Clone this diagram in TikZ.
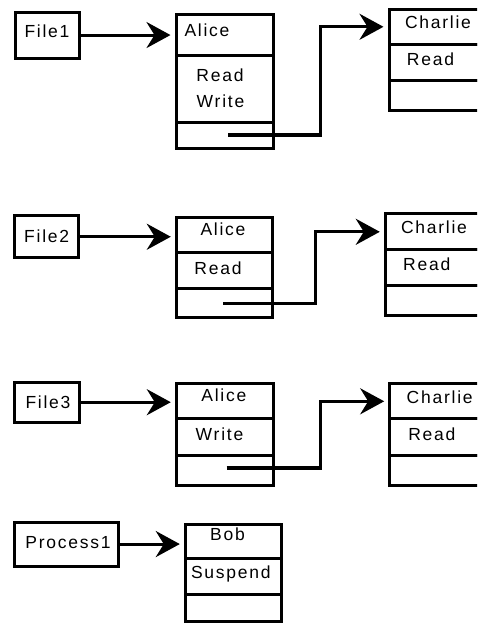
\documentclass[tikz,border=0pt]{standalone}
\usepackage{fontspec}
\setmainfont{Liberation Sans}[LetterSpace=10]
\usetikzlibrary{arrows.meta}

\begin{document}
\begin{tikzpicture}[x=1pt,y=-1pt,
  line width=3.1pt,
  box/.style={draw, rectangle, inner sep=0pt, anchor=north west},
  lbl/.style={anchor=base, inner sep=0pt, font=\fontsize{17.5}{20}\selectfont},
  arr/.style={-{Stealth[length=24pt,width=26pt,inset=8pt]}, shorten >=4pt}]
\useasboundingbox (0,0) rectangle (477,624);
\clip (0,0) rectangle (477,624);

% ---------- File1 ----------
\node[box, minimum width=64pt, minimum height=46pt] (f1) at (13.5,10.5) {};
\node[lbl] (f1t) at (47,37.5) {File1};
% access record: Alice
\node[box, minimum width=97pt, minimum height=41.5pt] (a1h) at (174.5,12.5) {};
\node[box, minimum width=97pt, minimum height=67pt]   (a1b) at (174.5,54) {};
\node[box, minimum width=97pt, minimum height=25.5pt] (a1p) at (174.5,121) {};
\node[lbl] (a1ht) at (207,36.7) {Alice};
\node[lbl] (a1bt) at (220,81.7) {Read};
\node[lbl] (a1bu) at (220.5,107.3) {Write};
% access record: Charlie
\node[box, minimum width=110pt, minimum height=35.5pt] (c1h) at (387.5,7.5) {};
\node[box, minimum width=110pt, minimum height=36pt]   (c1b) at (387.5,43) {};
\node[box, minimum width=110pt, minimum height=29.5pt] (c1p) at (387.5,79) {};
\node[lbl] (c1ht) at (438,28.3) {Charlie};
\node[lbl] (c1bt) at (430.5,65.7) {Read};
% links
\draw[arr] (f1.east) -- (f1.east -| a1h.west);
\coordinate (s1) at (228,135);
\draw[arr] (s1) -| ([xshift=-67pt]c1h.west) -- (c1h.west);

% ---------- File2 ----------
\node[box, minimum width=64.3pt, minimum height=42pt] (f2) at (12.5,214.2) {};
\node[lbl] (f2t) at (46.7,242.7) {File2};
\node[box, minimum width=96pt, minimum height=35.5pt] (a2h) at (174.8,215.5) {};
\node[box, minimum width=96pt, minimum height=36.3pt] (a2b) at (174.8,251) {};
\node[box, minimum width=96pt, minimum height=28.7pt] (a2p) at (174.8,287.3) {};
\node[lbl] (a2ht) at (223,235) {Alice};
\node[lbl] (a2bt) at (218,274.3) {Read};
\node[box, minimum width=110pt, minimum height=36.1pt] (c2h) at (383.8,212.2) {};
\node[box, minimum width=110pt, minimum height=36pt]   (c2b) at (383.8,248.3) {};
\node[box, minimum width=110pt, minimum height=29.2pt] (c2p) at (383.8,284.3) {};
\node[lbl] (c2ht) at (434,233.3) {Charlie};
\node[lbl] (c2bt) at (426.7,270) {Read};
\draw[arr] (f2.east) -- (f2.east -| a2h.west);
\coordinate (s2) at (223.3,303.3);
\draw[arr] (s2) -| ([xshift=-68pt]c2h.west) -- (c2h.west);

% ---------- File3 ----------
\node[box, minimum width=64.3pt, minimum height=40.3pt] (f3) at (13.2,380.5) {};
\node[lbl] (f3t) at (48,408.3) {File3};
\node[box, minimum width=97pt, minimum height=35.1pt] (a3h) at (174.8,382.2) {};
\node[box, minimum width=97pt, minimum height=37pt]   (a3b) at (174.8,417.3) {};
\node[box, minimum width=97pt, minimum height=29.9pt] (a3p) at (174.8,454.3) {};
\node[lbl] (a3ht) at (223.8,401.7) {Alice};
\node[lbl] (a3bt) at (219.5,440) {Write};
\node[box, minimum width=110pt, minimum height=35.1pt] (c3h) at (388.2,382.2) {};
\node[box, minimum width=110pt, minimum height=37pt]   (c3b) at (388.2,417.3) {};
\node[box, minimum width=110pt, minimum height=29.9pt] (c3p) at (388.2,454.3) {};
\node[lbl] (c3ht) at (439.7,403.3) {Charlie};
\node[lbl] (c3bt) at (431.8,440) {Read};
\draw[arr] (f3.east) -- (f3.east -| a3h.west);
\coordinate (s3) at (226.7,468);
\draw[arr] (s3) -| ([xshift=-68pt]c3h.west) -- (c3h.west);

% ---------- Process1 ----------
\node[box, minimum width=103.6pt, minimum height=44pt] (p1) at (13.2,520.5) {};
\node[lbl] (p1t) at (68,548.3) {Process1};
\node[box, minimum width=95.7pt, minimum height=34.8pt] (b1h) at (183.8,522.5) {};
\node[box, minimum width=95.7pt, minimum height=36pt]   (b1b) at (183.8,557.3) {};
\node[box, minimum width=95.7pt, minimum height=26.9pt] (b1p) at (183.8,593.3) {};
\node[lbl] (b1ht) at (227.5,540.7) {Bob};
\node[lbl] (b1bt) at (230.8,578.3) {Suspend};
\draw[arr] (p1.east) -- (p1.east -| b1h.west);
\end{tikzpicture}
\end{document}
